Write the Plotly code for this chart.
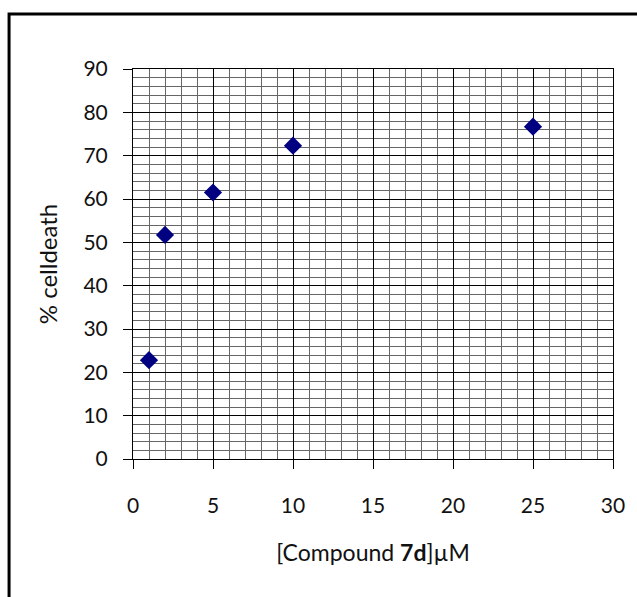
import plotly.graph_objects as go

# Data
concentration_uM = [1, 2, 5, 10, 25]
cell_death_pct = [22.8, 51.7, 61.5, 72.3, 76.7]

x_ticks = [0, 5, 10, 15, 20, 25, 30]
y_ticks = [0, 10, 20, 30, 40, 50, 60, 70, 80, 90]

FONT = "Lato"

fig = go.Figure()
fig.add_trace(go.Scatter(
    x=concentration_uM, y=cell_death_pct, mode="markers",
    marker=dict(symbol="diamond", size=14, color="#000080",
                line=dict(width=0)),
    showlegend=False,
))

axis_common = dict(
    showline=True, linecolor="black", linewidth=1, mirror=True,
    showgrid=True, gridcolor="black", gridwidth=1,
    ticks="outside", ticklen=9, tickcolor="black", tickwidth=1,
    zeroline=False,
    tickfont=dict(family=FONT, size=21, color="#111111"),
)

fig.update_xaxes(
    **axis_common,
    range=[0, 30], tickvals=x_ticks,
    ticklabelstandoff=19,
    minor=dict(dtick=1, showgrid=True, gridcolor="#666666", gridwidth=1, ticks=""),
    title=dict(text="[Compound <b>7d</b>]µM", font=dict(family=FONT, size=23, color="#111111"),
               standoff=28),
)
fig.update_yaxes(
    **axis_common,
    range=[0, 90], tickvals=y_ticks,
    ticklabelstandoff=11,
    minor=dict(dtick=2, showgrid=True, gridcolor="#666666", gridwidth=1, ticks=""),
    title=dict(text="% celldeath", font=dict(family=FONT, size=24, color="#111111"),
               standoff=19),
)

L, R, T, B = 133, 16, 69, 138
W, H = 637, 597
pw, ph = W - L - R, H - T - B

def px_to_paper_x(px):
    return (px - L) / pw

def px_to_paper_y(py):
    return (H - B - py) / ph

fig.add_shape(type="rect", xref="paper", yref="paper",
              x0=px_to_paper_x(7), x1=px_to_paper_x(650),
              y0=px_to_paper_y(610), y1=px_to_paper_y(14),
              line=dict(color="black", width=3), fillcolor="rgba(0,0,0,0)",
              layer="above")

fig.update_layout(
    width=W, height=H,
    margin=dict(l=L, r=R, t=T, b=B),
    paper_bgcolor="white", plot_bgcolor="white",
    font=dict(family=FONT, color="black"),
)

fig.write_html("out.html", config={"displayModeBar": False},
               post_script="document.body.style.margin='0';")
